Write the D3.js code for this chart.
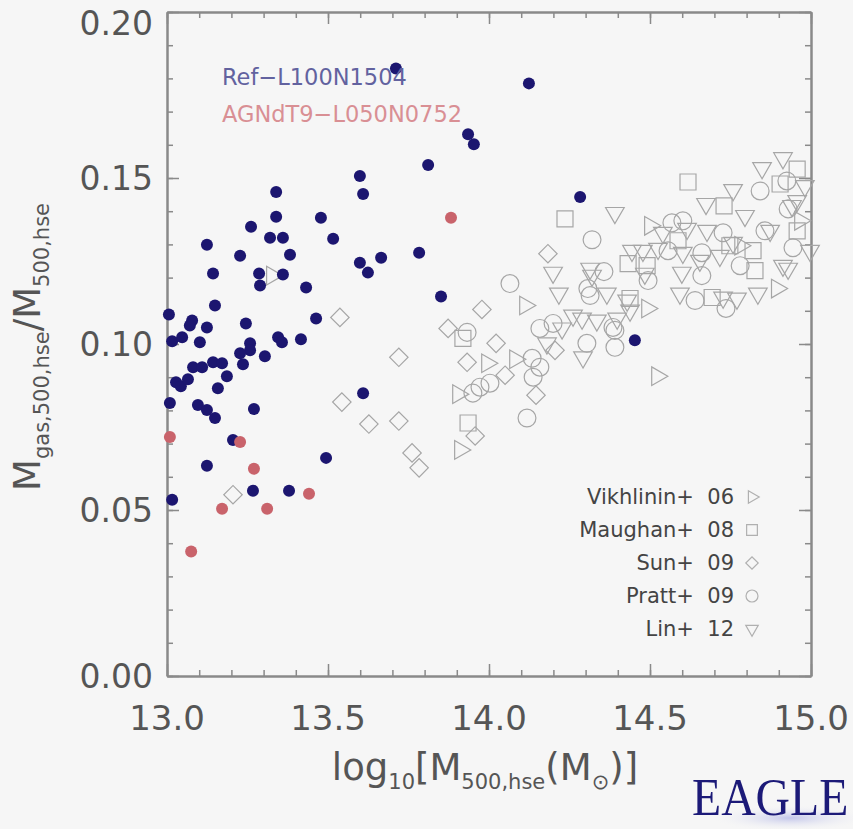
<!DOCTYPE html>
<html>
<head>
<meta charset="utf-8">
<script src="https://cdn.jsdelivr.net/npm/d3@7"></script>
<style>
  body { margin: 0; background: #f6f6f6; }
  svg { display: block; }
  text { font-family: "DejaVu Sans", sans-serif; }
</style>
</head>
<body>
<svg id="chart"></svg>
<script>
// Ref-L100N1504 haloes: [log10 M500, fgas]
let refPoints = [
  [13.711, 0.183], [14.124, 0.1785], [13.935, 0.1632], [13.953, 0.1602], [13.811, 0.1539],
  [13.599, 0.1506], [13.609, 0.1452], [13.339, 0.1458], [13.339, 0.1383], [13.478, 0.138],
  [13.261, 0.1353], [13.320, 0.132], [13.360, 0.132], [13.516, 0.1317], [13.124, 0.1299],
  [13.227, 0.1266], [13.382, 0.1269], [13.143, 0.1212], [13.286, 0.1212], [13.360, 0.1209],
  [13.665, 0.126], [13.783, 0.1275], [13.599, 0.1245], [13.624, 0.1215], [13.289, 0.1176],
  [13.432, 0.117], [13.851, 0.1143], [13.149, 0.1116], [13.006, 0.1089], [13.078, 0.1071],
  [13.071, 0.1056], [13.463, 0.1077], [13.124, 0.105], [13.245, 0.1062], [13.016, 0.1008],
  [13.047, 0.102], [13.102, 0.1005], [13.258, 0.1002], [13.345, 0.102], [13.357, 0.1005],
  [13.416, 0.1014], [13.258, 0.0981], [13.227, 0.0972], [13.304, 0.0963], [13.236, 0.0939],
  [13.081, 0.093], [13.109, 0.093], [13.143, 0.0945], [13.171, 0.0942], [13.186, 0.0903],
  [13.028, 0.0885], [13.043, 0.0873], [13.065, 0.0894], [13.158, 0.0867], [13.009, 0.0822],
  [13.096, 0.0816], [13.124, 0.0801], [13.149, 0.0777], [13.270, 0.0804], [13.609, 0.0852],
  [13.205, 0.0711], [13.124, 0.0633], [13.494, 0.0657], [13.267, 0.0558], [13.379, 0.0558],
  [13.016, 0.0531], [14.283, 0.1443], [14.453, 0.1011]
];

// AGNdT9-L050N0752 haloes
let agnPoints = [
  [13.882, 0.138], [13.227, 0.0705], [13.009, 0.072], [13.270, 0.0624],
  [13.441, 0.0549], [13.171, 0.0504], [13.311, 0.0504], [13.075, 0.0375]
];

// observational samples
let vikhlinin06 = [
  [13.326, 0.1206], [13.904, 0.0849], [13.910, 0.0681], [13.994, 0.0942], [14.081, 0.0954],
  [14.112, 0.1116], [14.491, 0.1107], [14.500, 0.1356], [14.522, 0.0903], [14.894, 0.1167],
  [14.780, 0.1296], [14.966, 0.1371]
];
let maughan08 = [
  [14.236, 0.1377], [14.618, 0.1488], [14.730, 0.1416], [13.935, 0.0762], [14.432, 0.1242],
  [14.491, 0.1236], [14.438, 0.1137], [14.693, 0.114], [14.820, 0.1281], [14.826, 0.1221],
  [14.957, 0.1527], [14.957, 0.1341], [14.904, 0.1482], [14.587, 0.1311], [14.748, 0.1296],
  [13.919, 0.1017]
];
let sun09 = [
  [13.205, 0.0546], [13.537, 0.108], [13.543, 0.0825], [13.627, 0.0759], [13.720, 0.096],
  [13.720, 0.0768], [13.761, 0.0672], [13.783, 0.0627], [13.873, 0.1047], [13.978, 0.1104],
  [14.022, 0.1002], [13.932, 0.0945], [13.957, 0.0723], [14.050, 0.0906], [14.146, 0.0846],
  [14.183, 0.1272], [14.205, 0.0981]
];
let pratt09 = [
  [14.065, 0.1182], [13.932, 0.1035], [14.134, 0.0957], [14.158, 0.093], [14.137, 0.09],
  [14.118, 0.0777], [13.972, 0.087], [14.003, 0.0882], [13.950, 0.0852], [14.158, 0.1047],
  [14.199, 0.1062], [14.304, 0.1002], [14.307, 0.1167], [14.314, 0.1146], [14.320, 0.1314],
  [14.357, 0.1218], [14.391, 0.1041], [14.391, 0.099], [14.494, 0.1191], [14.568, 0.1365],
  [14.602, 0.1371], [14.556, 0.1281], [14.661, 0.1275], [14.661, 0.1206], [14.640, 0.1131],
  [14.736, 0.1107], [14.727, 0.1335], [14.842, 0.1461], [14.925, 0.1491], [14.929, 0.1407],
  [14.944, 0.129], [14.385, 0.105], [14.780, 0.1236], [14.857, 0.1341]
];
let lin12 = [
  [14.199, 0.1215], [14.217, 0.1152], [14.261, 0.1086], [14.289, 0.1077], [14.292, 0.096],
  [14.180, 0.1002], [14.320, 0.1206], [14.335, 0.1071], [14.366, 0.1152], [14.391, 0.1395],
  [14.398, 0.1077], [14.438, 0.1101], [14.314, 0.1227], [14.444, 0.1281], [14.478, 0.1281],
  [14.525, 0.1287], [14.484, 0.1212], [14.540, 0.1335], [14.615, 0.1347], [14.677, 0.1341],
  [14.758, 0.1305], [14.602, 0.1275], [14.599, 0.1215], [14.593, 0.1152], [14.727, 0.114],
  [14.770, 0.1137], [14.674, 0.1422], [14.758, 0.1464], [14.848, 0.153], [14.913, 0.156],
  [14.941, 0.1416], [14.957, 0.1431], [14.913, 0.1236], [14.929, 0.1227], [14.835, 0.1152],
  [14.655, 0.1251], [14.717, 0.1266], [14.795, 0.1386], [14.873, 0.1341], [14.981, 0.1476],
  [14.997, 0.1281], [14.429, 0.1131], [14.227, 0.1047]
];

let legendNames = ['Vikhlinin+  06', 'Maughan+  08', 'Sun+  09', 'Pratt+  09', 'Lin+  12'];
let simNames = ['Ref\u2212L100N1504', 'AGNdT9\u2212L050N0752'];
let xTicks = [13.0, 13.5, 14.0, 14.5, 15.0];
let yTicks = [0.00, 0.05, 0.10, 0.15, 0.20];

let width = 853, height = 829;
let margin = { left: 167, right: 42, top: 12, bot: 153 };
let svg = d3.select('#chart').attr('width', width).attr('height', height);

svg.append('rect').attr('width', width).attr('height', height).attr('fill', '#f6f6f6');

let xScale = d3.scaleLinear().domain([13, 15]).range([margin.left, width - margin.right]);
let yScale = d3.scaleLinear().domain([0, 0.2]).range([height - margin.bot, margin.top]);

let axisColor = '#8a8a8a';
let minorX = d3.range(13, 15.001, 0.1);
let minorY = d3.range(0, 0.2001, 0.01);

function styleAxis(g) {
  g.select('.domain').attr('stroke', axisColor).attr('stroke-width', 2);
  g.selectAll('.tick line').attr('stroke', axisColor).attr('stroke-width', 1.5);
  g.selectAll('.tick text').remove();
}

// ticks point inwards on all four sides
let bottomY = yScale(0), topY = yScale(0.2), leftX = xScale(13), rightX = xScale(15);
[[d3.axisBottom, bottomY, 'x'], [d3.axisTop, topY, 'x'], [d3.axisLeft, leftX, 'y'], [d3.axisRight, rightX, 'y']]
  .forEach(([ax, pos, dim]) => {
    let scale = dim === 'x' ? xScale : yScale;
    let t = dim === 'x' ? `translate(0,${pos})` : `translate(${pos},0)`;
    svg.append('g').attr('transform', t)
      .call(ax(scale).tickValues(dim === 'x' ? minorX : minorY).tickSizeInner(-6).tickSizeOuter(0))
      .call(styleAxis);
    svg.append('g').attr('transform', t)
      .call(ax(scale).tickValues(dim === 'x' ? xTicks : yTicks).tickSizeInner(-12).tickSizeOuter(0))
      .call(styleAxis);
  });

// tick labels
svg.append('g').selectAll('text').data(xTicks).join('text')
  .attr('x', d => xScale(d)).attr('y', bottomY + 54)
  .attr('text-anchor', 'middle').attr('font-size', 34).attr('fill', '#555')
  .text(d => d.toFixed(1));
svg.append('g').selectAll('text').data(yTicks).join('text')
  .attr('x', leftX - 14).attr('y', d => Math.max(yScale(d) + 12, 35))
  .attr('text-anchor', 'end').attr('font-size', 33).attr('fill', '#555')
  .text(d => d.toFixed(2));

// axis titles
let xTitle = svg.append('text')
  .attr('x', 485).attr('y', 780)
  .attr('text-anchor', 'middle').attr('font-size', 37).attr('fill', '#555');
xTitle.append('tspan').text('log');
xTitle.append('tspan').attr('font-size', 21).attr('dy', 9).text('10');
xTitle.append('tspan').attr('dy', -9).text('[M');
xTitle.append('tspan').attr('font-size', 21).attr('dy', 9).text('500,hse');
xTitle.append('tspan').attr('dy', -9).text('(M');
xTitle.append('tspan').attr('font-size', 21).attr('dy', 9).text('\u2299');
xTitle.append('tspan').attr('dy', -9).text(')]');

let yTitle = svg.append('text')
  .attr('transform', 'translate(40,347) rotate(-90)')
  .attr('text-anchor', 'middle').attr('font-size', 37).attr('fill', '#555');
yTitle.append('tspan').text('M');
yTitle.append('tspan').attr('font-size', 21).attr('dy', 9).text('gas,500,hse');
yTitle.append('tspan').attr('dy', -9).text('/M');
yTitle.append('tspan').attr('font-size', 21).attr('dy', 9).text('500,hse');

// observational markers
let grey = '#a6a6a6';
let markerDefs = [
  { data: vikhlinin06, type: d3.symbolTriangle, size: 150, rot: 90 },
  { data: maughan08, type: d3.symbolSquare, size: 256, rot: 0 },
  { data: sun09, type: d3.symbolSquare, size: 170, rot: 45 },
  { data: pratt09, type: d3.symbolCircle, size: 250, rot: 0 },
  { data: lin12, type: d3.symbolTriangle, size: 150, rot: 180 }
];
let obs = svg.append('g');
markerDefs.forEach(m => {
  obs.selectAll(null).data(m.data).join('path')
    .attr('d', d3.symbol().type(m.type).size(m.size))
    .attr('transform', d => `translate(${xScale(d[0])},${yScale(d[1])}) rotate(${m.rot})`)
    .attr('fill', 'none').attr('stroke', grey).attr('stroke-width', 1.2);
});

// simulation points
svg.append('g').selectAll('circle').data(refPoints).join('circle')
  .attr('cx', d => xScale(d[0])).attr('cy', d => yScale(d[1])).attr('r', 6)
  .attr('fill', '#1c1670');
svg.append('g').selectAll('circle').data(agnPoints).join('circle')
  .attr('cx', d => xScale(d[0])).attr('cy', d => yScale(d[1])).attr('r', 6)
  .attr('fill', '#c9636b');

// simulation labels
svg.append('text').attr('x', 222).attr('y', 85).attr('font-size', 22.5)
  .attr('fill', '#62629f').text(simNames[0]);
svg.append('text').attr('x', 222).attr('y', 122).attr('font-size', 22.5)
  .attr('fill', '#d98f94').text(simNames[1]);

// legend for the observations
let legend = svg.append('g');
legendNames.forEach((name, i) => {
  let yy = 497 + i * 33;
  legend.append('text').attr('x', 734).attr('y', yy + 7)
    .attr('text-anchor', 'end').attr('font-size', 21).attr('fill', '#444')
    .style('white-space', 'pre').text(name);
  let m = markerDefs[i];
  legend.append('path')
    .attr('d', d3.symbol().type(m.type).size(m.size * 0.45))
    .attr('transform', `translate(752,${yy}) rotate(${m.rot})`)
    .attr('fill', 'none').attr('stroke', '#b0b0b0').attr('stroke-width', 1.2);
});

// EAGLE mark
let defs = svg.append('defs');
let grad = defs.append('radialGradient').attr('id', 'glow');
grad.append('stop').attr('offset', '0%').attr('stop-color', '#c3c6ea');
grad.append('stop').attr('offset', '100%').attr('stop-color', '#f6f6f6').attr('stop-opacity', 0);
svg.append('ellipse').attr('cx', 790).attr('cy', 818).attr('rx', 80).attr('ry', 13)
  .attr('fill', 'url(#glow)');
svg.append('text').attr('transform', 'translate(692,815) scale(0.9,1)')
  .style('font-family', '"Liberation Serif", "DejaVu Serif", serif').attr('font-size', 53)
  .attr('fill', '#1c1a78').text('EAGLE');
</script>
</body>
</html>
